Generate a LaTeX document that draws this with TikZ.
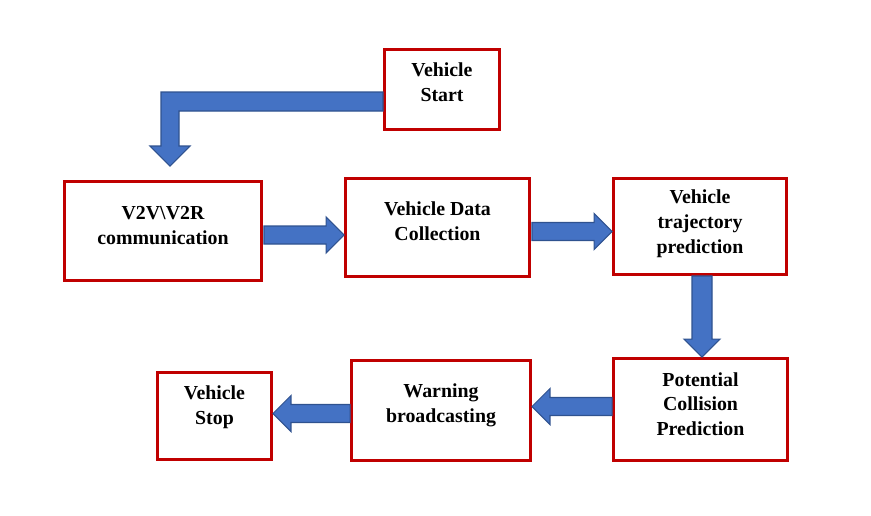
\documentclass[tikz,border=0pt]{standalone}
\usepackage{fontspec}
\setmainfont{Liberation Serif}
\usetikzlibrary{calc,positioning}

\definecolor{boxred}{HTML}{C00000}
\definecolor{arrowblue}{HTML}{4472C4}
\definecolor{arrowedge}{HTML}{2F528F}

\tikzset{
  stepbox/.style={draw=boxred,line width=1.7pt,fill=white,align=center,
    font=\fontsize{11.3}{14.2}\selectfont\bfseries,inner sep=2pt},
  liftby/.style={text depth=#1},
  blockarr/.style={fill=arrowblue,draw=arrowedge,line width=0.6pt,line join=miter}
}

% fat horizontal arrow, #3 = 1 (right) or -1 (left)
\newcommand{\harrow}[3]{%
  \draw[blockarr] ($(#1)+(0,-9)$) -- ($(#2)+({-(#3)*18},-9)$) -- ($(#2)+({-(#3)*18},-18)$)
    -- (#2) -- ($(#2)+({-(#3)*18},18)$) -- ($(#2)+({-(#3)*18},9)$) -- ($(#1)+(0,9)$) -- cycle;}
% fat downward arrow
\newcommand{\varrow}[2]{%
  \draw[blockarr] ($(#1)+(-10,0)$) -- ($(#2)+(-10,-18)$) -- ($(#2)+(-18,-18)$)
    -- (#2) -- ($(#2)+(18,-18)$) -- ($(#2)+(10,-18)$) -- ($(#1)+(10,0)$) -- cycle;}

\begin{document}
\begin{tikzpicture}[x=0.02cm,y=-0.02cm]
    \useasboundingbox (0,0) rectangle (871,515);

    \node [stepbox,liftby=8.5pt,minimum width=2.30cm,minimum height=1.60cm] (1) at (442,89.5) {Vehicle\\Start};
    \node [stepbox,liftby=6.8pt,minimum width=3.94cm,minimum height=1.98cm] (2) at (163,231) {V2V\textbackslash V2R\\communication};
    \node [stepbox,liftby=6.8pt,minimum width=3.68cm,minimum height=1.96cm] (3) at (437.5,227.5) {Vehicle Data\\Collection};
    \node [stepbox,liftby=5.5pt,minimum width=3.46cm,minimum height=1.92cm] (4) at (700,226.5) {Vehicle\\trajectory\\prediction};
    \node [stepbox,liftby=6.2pt,minimum width=3.48cm,minimum height=2.04cm] (5) at (700.5,409.5) {Potential\\Collision\\Prediction};
    \node [stepbox,liftby=8.4pt,minimum width=3.58cm,minimum height=2.00cm] (6) at (441,410.5) {Warning\\broadcasting};
    \node [stepbox,liftby=12.4pt,minimum width=2.28cm,minimum height=1.74cm] (7) at (214.5,416) {Vehicle\\Stop};

    % bent arrow from start down to V2V box
    \coordinate (t1) at ($(1.west)+(0,12)$);
    \coordinate (h1) at ($(2.north)+(7,-14)$);
    \coordinate (c1) at (h1 |- t1);
    \draw[blockarr] ($(t1)+(0,-9.5)$) -- ($(c1)+(-9,-9.5)$) -- ($(h1)+(-9,-20)$)
      -- ($(h1)+(-20,-20)$) -- (h1) -- ($(h1)+(20,-20)$) -- ($(h1)+(9,-20)$)
      -- ($(c1)+(9,9.5)$) -- ($(t1)+(0,9.5)$) -- cycle;

    \coordinate (t2) at ($(2.east)+(1,4)$);
    \coordinate (h2) at (3.west |- t2);
    \harrow{t2}{h2}{1}

    \coordinate (t3) at ($(3.east)+(1,4)$);
    \coordinate (h3) at (4.west |- t3);
    \harrow{t3}{h3}{1}

    \coordinate (t4) at ($(4.south)+(2,0)$);
    \coordinate (h4) at (t4 |- 5.north);
    \varrow{t4}{h4}

    \coordinate (t5) at ($(5.west)+(0,-3)$);
    \coordinate (h5) at (6.east |- t5);
    \harrow{t5}{h5}{-1}

    \coordinate (t6) at ($(6.west)+(0,3)$);
    \coordinate (h6) at (7.east |- t6);
    \harrow{t6}{h6}{-1}

  \end{tikzpicture}
\end{document}
